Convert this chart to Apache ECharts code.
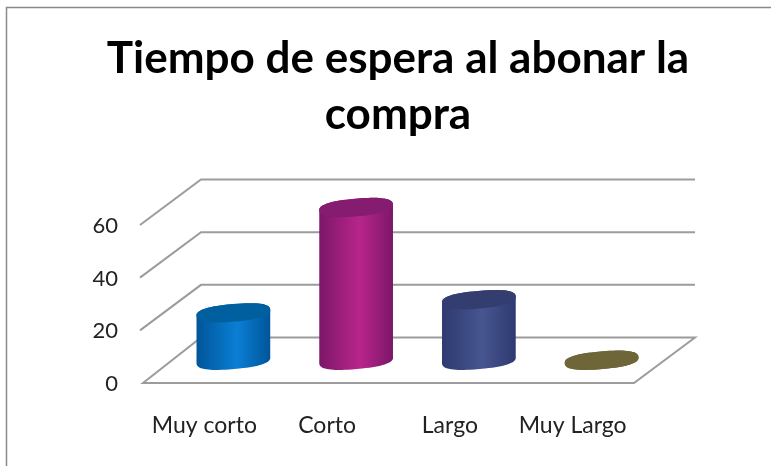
<!DOCTYPE html>
<html><head><meta charset="utf-8">
<style>html,body{margin:0;padding:0;background:#fff}#c{width:771px;height:466px}</style>
<script src="https://cdn.jsdelivr.net/npm/echarts@6/dist/echarts.min.js"></script>
</head><body><div id="c"></div>
<script>
const titleText = "Tiempo de espera al abonar la\ncompra";
const categories = ["Muy corto", "Corto", "Largo", "Muy Largo"];
const values = [18, 58, 23, 0];
const gridTicks = [0, 20, 40, 60];
const edgeColors = ["#00559a", "#7c1768", "#2e3a70", "#6e6638"];
const midColors = ["#0a7fd4", "#b8258c", "#475590", "#6e6638"];
const capColors = ["#00609f", "#861c70", "#333d70", "#6e6638"];

const DX = 58, DY = -45.5, RX = 37, RY = 8.8, TILT = -5 * Math.PI / 180, ROUND = 0.8;
const chart = echarts.init(document.getElementById('c'));

function ell(cx, cy, t) {
  const c = Math.sign(Math.cos(t)) * Math.pow(Math.abs(Math.cos(t)), ROUND);
  const s = Math.sign(Math.sin(t)) * Math.pow(Math.abs(Math.sin(t)), ROUND);
  return [cx + RX * c * Math.cos(TILT) - RY * s * Math.sin(TILT),
          cy + RX * c * Math.sin(TILT) + RY * s * Math.cos(TILT)];
}
function renderGrid(params, api) {
  const v = api.value(0), cs = params.coordSys, p = api.coord([0, v]);
  const L = cs.x, R = cs.x + cs.width, y = p[1];
  const line = { stroke: '#9c9c9c', lineWidth: 2, fill: null };
  if (v === 0) {
    return { type: 'polygon', shape: { points: [[L, y], [L + DX, y + DY], [R + DX + 3, y + DY], [R, y]] }, style: line };
  }
  return { type: 'polyline', shape: { points: [[L - 3, y], [L + DX, y + DY], [R + DX + 3, y + DY]] }, style: line };
}
function renderCyl(params, api) {
  const i = params.dataIndex, p1 = api.coord([api.value(0), api.value(1)]), p0 = api.coord([api.value(0), 0]);
  const cx = p0[0] + DX / 2, by = p0[1] + DY / 2, ty = p1[1] + DY / 2;
  const body = [], cap = [];
  for (let k = 0; k <= 36; k++) body.push(ell(cx, by, Math.PI * k / 36));
  for (let k = 0; k <= 36; k++) body.push(ell(cx, ty, Math.PI + Math.PI * k / 36));
  for (let k = 0; k < 72; k++) cap.push(ell(cx, ty, 2 * Math.PI * k / 72));
  return { type: 'group', children: [
    { type: 'polygon', shape: { points: body }, style: { fill: {
        type: 'linear', x: 0, y: 0, x2: 1, y2: 0,
        colorStops: [{ offset: 0, color: edgeColors[i] }, { offset: 0.55, color: midColors[i] }, { offset: 1, color: edgeColors[i] }] } } },
    { type: 'polygon', shape: { points: cap }, style: { fill: capColors[i] } }
  ] };
}
chart.setOption({
  backgroundColor: '#ffffff',
  animation: false,
  title: { text: titleText, left: 393, top: 26, textAlign: 'center',
    textStyle: { fontFamily: 'Lato', fontWeight: 'bold', fontSize: 44, lineHeight: 56, color: '#000' } },
  grid: { left: 143, right: 137, top: 225, bottom: 83 },
  xAxis: { type: 'category', data: categories, axisLine: { show: false }, axisTick: { show: false },
    axisLabel: { interval: 0, hideOverlap: false, margin: 31, fontFamily: 'Lato', fontSize: 23, color: '#222' } },
  yAxis: { type: 'value', min: 0, max: 60, interval: 20, splitLine: { show: false }, axisLine: { show: false }, axisTick: { show: false },
    axisLabel: { margin: 25, fontFamily: 'Lato', fontSize: 22, color: '#222', verticalAlign: 'bottom', lineHeight: 22, padding: [0,0,-12,0] } },
  graphic: [{ type: 'polyline', silent: true, shape: { points: [[6.5, 466], [6.5, 7.5], [771, 7.5]] }, style: { stroke: '#8a8a8a', lineWidth: 1.5, fill: null } }],
  series: [
    { type: 'custom', z: 1, renderItem: renderGrid, data: gridTicks.map(v => [v]), encode: { y: 0 }, silent: true, clip: false },
    { type: 'custom', z: 2, renderItem: renderCyl, data: values.map((v, i) => [i, v]), encode: { x: 0, y: 1 }, clip: false }
  ]
});
</script></body></html>
